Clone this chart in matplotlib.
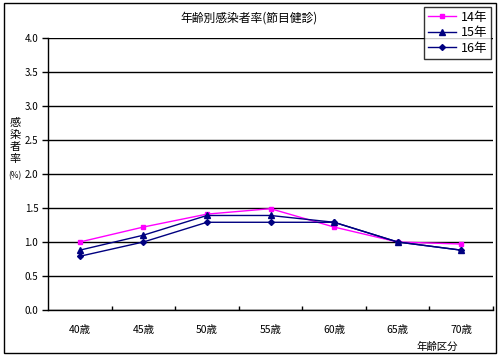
import matplotlib
matplotlib.use("Agg")
import matplotlib.pyplot as plt
from matplotlib.patches import Rectangle

plt.rcParams['font.family'] = ['Noto Sans CJK JP', 'DejaVu Sans']

categories = ["40歳", "45歳", "50歳", "55歳", "60歳", "65歳", "70歳"]
series_names = ["14年", "15年", "16年"]
v14 = [1.00, 1.22, 1.41, 1.49, 1.22, 1.00, 0.97]
v15 = [0.88, 1.10, 1.39, 1.39, 1.29, 1.00, 0.88]
v16 = [0.79, 1.00, 1.29, 1.29, 1.29, 1.00, 0.88]
yticks = [0.0, 0.5, 1.0, 1.5, 2.0, 2.5, 3.0, 3.5, 4.0]

W, H = 502, 355
fig = plt.figure(figsize=(W / 100, H / 100), dpi=100)
ax = fig.add_axes([48 / W, 1 - 310 / H, (493 - 48) / W, (310 - 38) / H])

x = list(range(len(categories)))
styles = [
    (v14, "#FF00FF", "s", 3.5),
    (v15, "#000080", "^", 4.5),
    (v16, "#000080", "D", 3.0),
]
handles = []
for (vals, col, mk, ms), name in zip(styles, series_names):
    ln, = ax.plot(x, vals, color=col, marker=mk, markersize=ms, linewidth=1.0,
                  markerfacecolor=col, markeredgecolor=col, label=name, zorder=3)
    handles.append(ln)

ax.set_xlim(-0.5, len(categories) - 0.5)
ax.set_ylim(0, 4.0)
ax.set_yticks(yticks)
ax.set_yticklabels([f"{t:.1f}" for t in yticks], fontsize=7)
ax.yaxis.grid(True, color="black", linewidth=1.0)
ax.set_axisbelow(True)

ax.set_xticks(x)
ax.set_xticklabels(categories, fontsize=7.5)
ax.set_xticks([i + 0.5 for i in range(len(categories))], minor=True)
ax.tick_params(axis="x", which="major", length=0, pad=11)
ax.tick_params(axis="x", which="minor", direction="in", length=3, width=1)
ax.tick_params(axis="y", direction="out", length=4, width=1, pad=3)

for s in ["top", "right"]:
    ax.spines[s].set_visible(False)
for s in ["left", "bottom"]:
    ax.spines[s].set_linewidth(1.0)
    ax.spines[s].set_color("black")

fig.text(249 / W, 1 - 18 / H, "年齢別感染者率(節目健診)", ha="center", va="center", fontsize=8.5)
fig.text(437 / W, 1 - 347 / H, "年齢区分", ha="center", va="center", fontsize=7.5)
for ch, yy in zip(["感", "染", "者", "率"], [123, 135, 147, 159]):
    fig.text(15 / W, 1 - yy / H, ch, ha="center", va="center", fontsize=8)
fig.text(15 / W, 1 - 176 / H, "(%)", ha="center", va="center", fontsize=6)

leg = fig.legend(handles=handles, labels=series_names, loc="upper right",
                 bbox_to_anchor=(491 / W, 1 - 7 / H), frameon=True, fancybox=False,
                 edgecolor="black", fontsize=9, handlelength=2.2, handletextpad=0.4,
                 borderpad=0.3, labelspacing=0.2, borderaxespad=0)
leg.get_frame().set_linewidth(1.0)

fig.patches.append(Rectangle((4 / W, 2 / H), (496 - 4) / W, (352 - 2) / H,
                             transform=fig.transFigure, fill=False,
                             edgecolor="black", linewidth=1.0))

fig.savefig("out.png", dpi=100)
